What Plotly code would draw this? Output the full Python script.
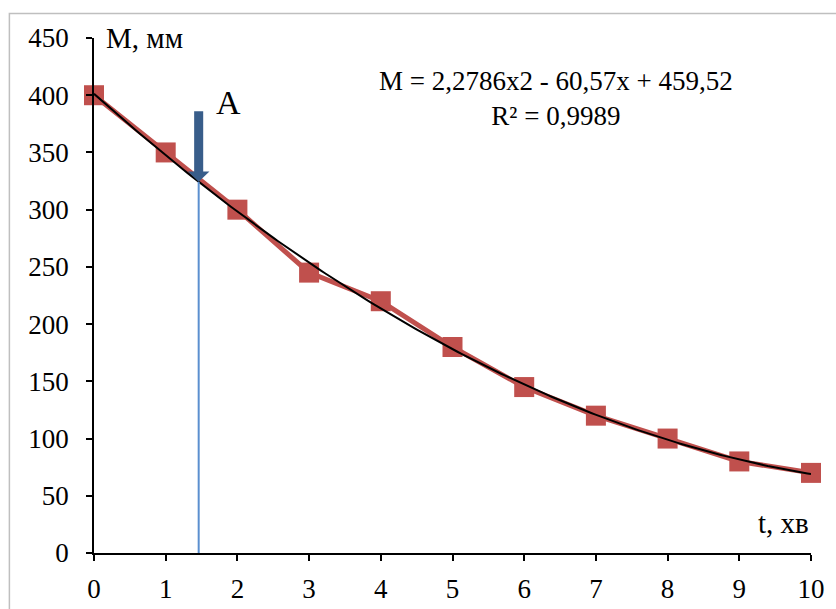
import numpy as np
import plotly.graph_objects as go

# Measured decay of M (mm) over time t (min)
t_min = [0, 1, 2, 3, 4, 5, 6, 7, 8, 9, 10]
m_mm = [400, 350, 300, 245, 220, 180, 145, 120, 100, 80, 70]

x_ticks = list(range(0, 11))
y_ticks = list(range(0, 451, 50))

equation_text = "M = 2,2786x2 - 60,57x + 459,52<br>R² = 0,9989"
point_a_t = 1.46

# second-order polynomial trend through the measurements
coef = np.polyfit(t_min, m_mm, 2)
t_fit = np.linspace(0, 10, 200)
m_fit = np.polyval(coef, t_fit)
m_at_a = float(np.polyval(coef, point_a_t))

FONT = "Liberation Serif, Times New Roman, serif"
RED = "#C0504D"
ARROW = "#385D8A"

fig = go.Figure()

fig.add_trace(go.Scatter(
    x=t_min, y=m_mm, mode="lines+markers",
    line=dict(color=RED, width=5),
    marker=dict(symbol="square", size=20, color=RED),
    cliponaxis=False,
    showlegend=False, hoverinfo="skip",
))

fig.add_trace(go.Scatter(
    x=t_fit, y=m_fit, mode="lines",
    line=dict(color="black", width=2),
    cliponaxis=False,
    showlegend=False, hoverinfo="skip",
))

# vertical marker at point A
fig.add_trace(go.Scatter(
    x=[point_a_t, point_a_t], y=[0, m_at_a], mode="lines",
    line=dict(color="#5B8FCF", width=2),
    showlegend=False, hoverinfo="skip",
))

# block arrow pointing down onto the curve at A
shaft_half = 0.063
head_half = 0.15
head_len = 9
shaft_top = 386
head_base = m_at_a + head_len
fig.add_shape(
    type="path", xref="x", yref="y",
    path=(f"M {point_a_t - shaft_half},{shaft_top} "
          f"L {point_a_t + shaft_half},{shaft_top} "
          f"L {point_a_t + shaft_half},{head_base} "
          f"L {point_a_t + head_half},{head_base} "
          f"L {point_a_t},{m_at_a} "
          f"L {point_a_t - head_half},{head_base} "
          f"L {point_a_t - shaft_half},{head_base} Z"),
    fillcolor=ARROW, line=dict(width=0),
)

fig.add_annotation(
    x=1.87, y=394, xref="x", yref="y", text="A", showarrow=False,
    font=dict(family=FONT, size=34, color="black"),
)

fig.add_annotation(
    x=0.14, y=450, xref="x", yref="y", text="M, мм", showarrow=False,
    xanchor="left", yanchor="middle",
    font=dict(family=FONT, size=29, color="black"),
)

fig.add_annotation(
    x=10.0, y=26, xref="x", yref="y", text="t, хв", showarrow=False,
    xanchor="right", yanchor="middle",
    font=dict(family=FONT, size=29, color="black"),
)

fig.add_annotation(
    x=6.45, y=397, xref="x", yref="y", text=equation_text, showarrow=False,
    xanchor="center", yanchor="middle", align="center",
    font=dict(family=FONT, size=27, color="black"),
)

# outer chart frame
fig.add_shape(
    type="rect", xref="paper", yref="paper",
    x0=-0.118, x1=1.2, y0=-0.2, y1=1.0476,
    line=dict(color="#BFBFBF", width=1.5), fillcolor="rgba(0,0,0,0)",
    layer="below",
)

fig.update_layout(
    width=836, height=609,
    margin=dict(l=94, r=25, t=38, b=56),
    paper_bgcolor="white", plot_bgcolor="white",
    font=dict(family=FONT, size=27, color="black"),
    xaxis=dict(
        range=[0, 10], tickvals=x_ticks, showgrid=False, zeroline=False,
        showline=True, linecolor="black", linewidth=1.5, automargin=False,
        ticks="outside", ticklen=6, tickcolor="black", tickwidth=1.5,
        tickfont=dict(family=FONT, size=27), ticklabelstandoff=5,
    ),
    yaxis=dict(
        range=[0, 450], tickvals=y_ticks, showgrid=False, zeroline=False,
        showline=True, linecolor="black", linewidth=1.5, automargin=False,
        ticks="outside", ticklen=6, tickcolor="black", tickwidth=1.5,
        tickfont=dict(family=FONT, size=27), ticklabelstandoff=12,
    ),
)

fig.write_html("out.html")
